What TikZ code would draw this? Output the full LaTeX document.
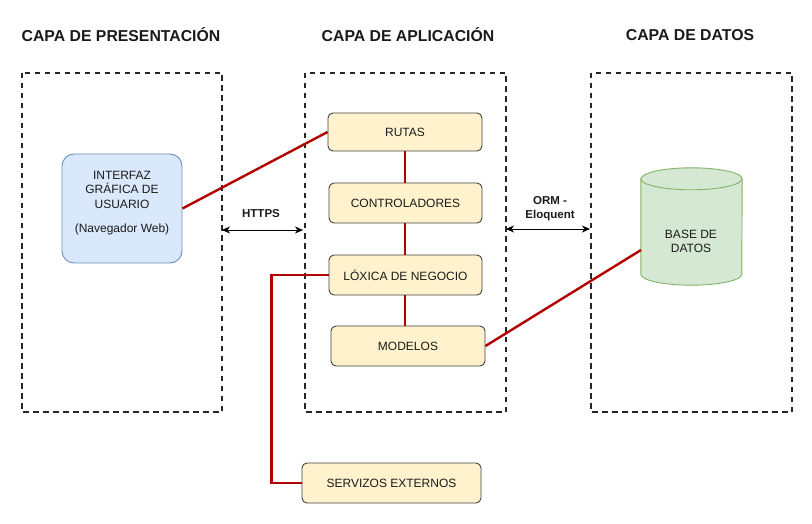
\documentclass[tikz,border=0pt]{standalone}
\usepackage{fontspec}
\usetikzlibrary{arrows.meta}
\setmainfont{Liberation Sans}
\definecolor{blueF}{HTML}{DAE8FC}
\definecolor{blueD}{HTML}{6C8EBF}
\definecolor{yelF}{HTML}{FFF2CC}
\definecolor{greF}{HTML}{D5E8D4}
\definecolor{greD}{HTML}{82B366}
\definecolor{redL}{HTML}{B20000}
\definecolor{txt}{HTML}{1A1A1A}
\begin{document}
\begin{tikzpicture}[x=1pt,y=-1pt,
  layer/.style={draw=black!85,dash pattern=on 5.5pt off 4.5pt,line width=1.6pt},
  title/.style={font=\fontsize{15.8}{18}\selectfont\bfseries,text=txt},
  ybox/.style={draw=black!75,fill=yelF,rounded corners=5pt,line width=0.9pt,font=\fontsize{12}{14}\selectfont,text=txt,inner sep=0pt},
  redline/.style={draw=redL,line width=2.4pt},
  arr/.style={{Stealth[length=8pt,width=7pt,inset=2.5pt]}-{Stealth[length=8pt,width=7pt,inset=2.5pt]},line width=0.9pt},
  lbl/.style={font=\fontsize{11.5}{13}\selectfont\bfseries,text=txt,align=center}
]
\useasboundingbox (0,0) rectangle (812,524);
% titles
\node[title] (t1) at (121,35) {CAPA DE PRESENTACIÓN};
\node[title] (t2) at (408,35) {CAPA DE APLICACIÓN};
\node[title] (t3) at (690,35) {CAPA DE DATOS};
% layers
\draw[layer] (22,73) rectangle (222,412);
\draw[layer] (305,73) rectangle (506,412);
\draw[layer] (591,73) rectangle (792,412);
\coordinate (L1r) at (222,230);
\coordinate (L2l) at (303,230);
\coordinate (L2r) at (506,229);
\coordinate (L3l) at (590,229);
% interface
\node[draw=blueD,fill=blueF,rounded corners=12pt,line width=0.9pt,minimum width=120pt,minimum height=109pt,inner sep=0pt] (ui) at (122,208.5) {};
\node[font=\fontsize{12}{14.5}\selectfont,text=txt,align=center] (uit) at (122,203) {INTERFAZ\\GRÁFICA DE\\USUARIO\\[10pt](Navegador Web)};
% app boxes
\node[ybox,minimum width=154pt,minimum height=38pt] (rutas) at (405,132) {RUTAS};
\node[ybox,minimum width=153pt,minimum height=40pt] (ctrl) at (405.5,203) {CONTROLADORES};
\node[ybox,minimum width=153pt,minimum height=40pt] (lox) at (405.5,275) {LÓXICA DE NEGOCIO};
\node[ybox,minimum width=154pt,minimum height=40pt] (mod) at (408,346) {MODELOS};
\node[ybox,minimum width=179pt,minimum height=40pt] (serv) at (391.5,483) {SERVIZOS EXTERNOS};
\coordinate (vx) at (405,0);
% database cylinder
\node[minimum width=101pt,minimum height=117pt,inner sep=0pt] (db) at (691.5,226.5) {};
\path[fill=greF,draw=greD,line width=0.9pt]
  ([yshift=-11pt]db.north west) -- ([yshift=11pt]db.south west)
  arc[start angle=180,end angle=360,x radius=50.5pt,y radius=11pt]
  -- ([yshift=-11pt]db.north east)
  arc[start angle=0,end angle=180,x radius=50.5pt,y radius=11pt] -- cycle;
\draw[greD,line width=0.9pt] ([yshift=-11pt]db.north west) arc[start angle=180,end angle=360,x radius=50.5pt,y radius=11pt];
\node[font=\fontsize{12}{14}\selectfont,text=txt,align=center] (dbt) at (691,241) {BASE DE\\DATOS};
% red connectors
\draw[redline] (ui.east) -- (rutas.west);
\draw[redline] (rutas.south-|vx) -- (ctrl.north-|vx);
\draw[redline] (ctrl.south-|vx) -- (lox.north-|vx);
\draw[redline] (lox.south-|vx) -- (mod.north-|vx);
\draw[redline] (lox.west) -- ++(-57,0) |- (serv.west);
\draw[redline] (mod.east) -- (641,250);
% arrows
\draw[arr] (L1r) -- (L2l);
\draw[arr] (L2r) -- (L3l);
\node[lbl] (https) at (261,214) {HTTPS};
\node[lbl,font=\fontsize{11.5}{14}\selectfont\bfseries] (orm) at (550,209) {ORM -\\Eloquent};
\end{tikzpicture}
\end{document}
